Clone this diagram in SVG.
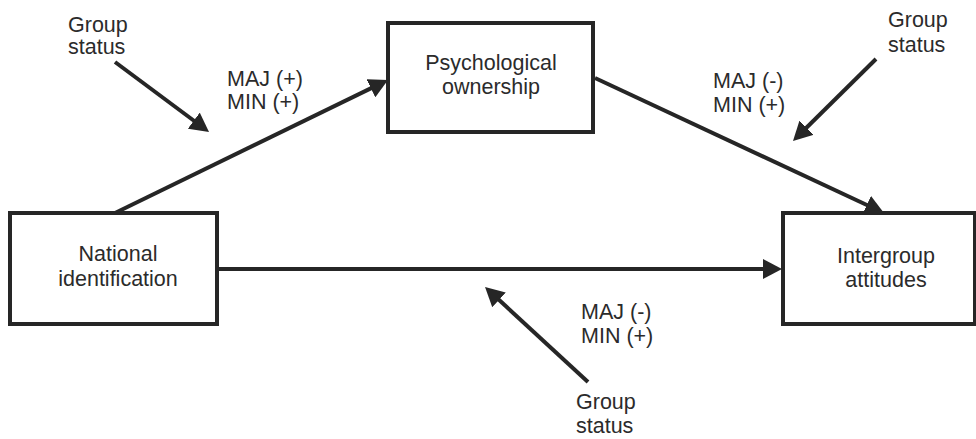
<svg xmlns="http://www.w3.org/2000/svg" width="976" height="439" viewBox="0 0 976 439">
<style>
.box{fill:#fff;stroke:#262626;stroke-width:4}
.edge{stroke:#262626;stroke-width:4;fill:none;marker-end:url(#arr)}
text{font-family:"Liberation Sans",Arial,sans-serif;font-size:21.5px;fill:#2b2b2b}
.c{text-anchor:middle}
</style>
<defs>
<marker id="arr" markerUnits="userSpaceOnUse" markerWidth="19" markerHeight="20" refX="9" refY="10" orient="auto" viewBox="0 0 19 20">
<path d="M0,0 L19,10 L0,20 z" fill="#262626"/>
</marker>
</defs>
<rect width="976" height="439" fill="#fff"/>
<g id="connectors">
<line class="edge" x1="115" y1="213" x2="379" y2="84.4"/>
<line class="edge" x1="595" y1="78" x2="874.9" y2="208.8"/>
<line class="edge" x1="217" y1="269" x2="772" y2="269"/>
<line class="edge" x1="115" y1="62" x2="201" y2="126"/>
<line class="edge" x1="876" y1="59" x2="800.1" y2="134"/>
<line class="edge" x1="588" y1="382" x2="492.4" y2="293.8"/>
</g>
<g id="national">
<rect class="box" x="10" y="213" width="207" height="111"/>
<text class="c" x="118" y="261">National</text>
<text class="c" x="118" y="286">identification</text>
</g>
<g id="ownership">
<rect class="box" x="388" y="23" width="205" height="109"/>
<text class="c" x="491" y="70">Psychological</text>
<text class="c" x="491" y="94">ownership</text>
</g>
<g id="attitudes">
<rect class="box" x="783" y="213" width="192" height="111"/>
<text class="c" x="886" y="263">Intergroup</text>
<text class="c" x="886" y="287">attitudes</text>
</g>
<g id="labels">
<text x="68" y="32">Group</text>
<text x="68" y="54">status</text>
<text x="227" y="86">MAJ (+)</text>
<text x="227" y="109">MIN (+)</text>
<text x="888" y="27">Group</text>
<text x="888" y="52">status</text>
<text x="713" y="88">MAJ (-)</text>
<text x="713" y="112">MIN (+)</text>
<text x="581" y="319">MAJ (-)</text>
<text x="581" y="343">MIN (+)</text>
<text x="576" y="409">Group</text>
<text x="576" y="433">status</text>
</g>
</svg>
